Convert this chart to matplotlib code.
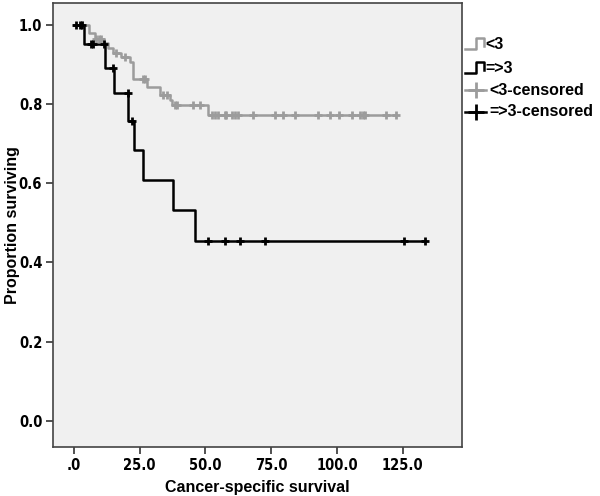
import numpy as np
import matplotlib.pyplot as plt
from matplotlib.lines import Line2D

# Kaplan-Meier curves (step times and survival after each step)
lt3_times = [0, 5.6, 7.9, 11.3, 13.0, 14.9, 18.0, 21.2, 22.5, 28.0, 32.7, 36.5, 37.5, 51.0]
lt3_surv = [1.0, 0.980, 0.965, 0.954, 0.942, 0.929, 0.918, 0.905, 0.862, 0.843, 0.823, 0.810, 0.797, 0.772]
lt3_end = 122.5
lt3_censored = [3.0, 8.5, 9.5, 10.5, 16.0, 19.5, 26.3, 27.0, 34.0, 35.4, 38.4, 39.1, 45.4, 47.9,
                52.4, 53.5, 54.9, 57.4, 58.0, 60.0, 61.2, 62.5, 68.2, 76.4, 79.6, 84.0, 92.9,
                97.5, 100.7, 105.8, 108.7, 109.7, 110.6, 118.8, 122.4]

ge3_times = [0, 3.8, 11.9, 15.2, 20.7, 22.9, 26.4, 37.8, 46.0]
ge3_surv = [1.0, 0.952, 0.890, 0.827, 0.757, 0.683, 0.608, 0.531, 0.455]
ge3_end = 133.4
ge3_censored = [0.9, 2.2, 3.3, 6.6, 7.4, 11.6, 15.0, 20.5, 22.0,
                51.1, 57.5, 63.1, 72.6, 125.5, 133.4]

x_ticks = [0, 25, 50, 75, 100, 125]
x_labels = [".0", "25.0", "50.0", "75.0", "100.0", "125.0"]
y_ticks = [0.0, 0.2, 0.4, 0.6, 0.8, 1.0]
y_labels = ["0.0", "0.2", "0.4", "0.6", "0.8", "1.0"]
legend_labels = ["<3", "=>3", "<3-censored", "=>3-censored"]

GRAY = "#9c9c9c"
BLACK = "#000000"


def surv_at(times, surv, t):
    idx = np.searchsorted(times, t, side="right") - 1
    return np.asarray(surv)[idx]


fig = plt.figure(figsize=(6, 4.96), dpi=100)
ax = fig.add_axes([0.089, 0.099, 0.681, 0.895])
ax.set_facecolor("#f0f0f0")

for times, surv, end, cens, col in [
    (lt3_times, lt3_surv, lt3_end, lt3_censored, GRAY),
    (ge3_times, ge3_surv, ge3_end, ge3_censored, BLACK),
]:
    ax.step(times + [end], surv + [surv[-1]], where="post", color=col, lw=1.8, zorder=3)
    ax.plot(cens, surv_at(times, surv, cens), ls="none", marker="+", ms=6, mew=2,
            color=col, zorder=4)

ax.set_xlim(-7.75, 147.5)
ax.set_ylim(-0.066, 1.055)
ax.set_xticks(x_ticks)
ax.set_xticklabels(x_labels)
ax.set_yticks(y_ticks)
ax.set_yticklabels(y_labels)

tick_font = dict(family=["DejaVu Sans"], stretch="condensed", weight="bold", size=10.5)
for lab in ax.get_xticklabels() + ax.get_yticklabels():
    lab.set(**tick_font)
ax.tick_params(direction="out", length=5, width=1.2, color="#333333", pad=3)
for s in ax.spines.values():
    s.set_color("#444444")
    s.set_linewidth(1.2)

label_font = dict(family=["Liberation Sans", "DejaVu Sans"], weight="bold", size=11.5)
ax.set_xlabel("Cancer-specific survival", labelpad=5, **label_font)
ax.set_ylabel("Proportion surviving", **label_font)
ax.yaxis.set_label_coords(-0.082, 0.5)

# legend drawn by hand to the right of the plot (step icons and plus icons)
ys = [0.911, 0.862, 0.818, 0.775]
x0 = 0.775
for i, (lab, y) in enumerate(zip(legend_labels, ys)):
    col = GRAY if i % 2 == 0 else BLACK
    if i < 2:
        xs = [x0, x0 + 0.018, x0 + 0.018, x0 + 0.032, x0 + 0.032]
        yv = [y - 0.01, y - 0.01, y + 0.012, y + 0.012, y - 0.004]
        fig.add_artist(Line2D(xs, yv, color=col, lw=1.8))
    else:
        fig.add_artist(Line2D([x0, x0 + 0.035], [y, y], color=col, lw=1.8))
        fig.add_artist(Line2D([x0 + 0.0175], [y], marker="+", ms=11, mew=2, color=col))
    fig.text(x0 + (0.034 if i < 2 else 0.04), y, lab, va="center", ha="left",
             family=["Liberation Sans", "DejaVu Sans"], weight="bold", size=11.5)

fig.savefig("out.png", dpi=100, facecolor="white")
